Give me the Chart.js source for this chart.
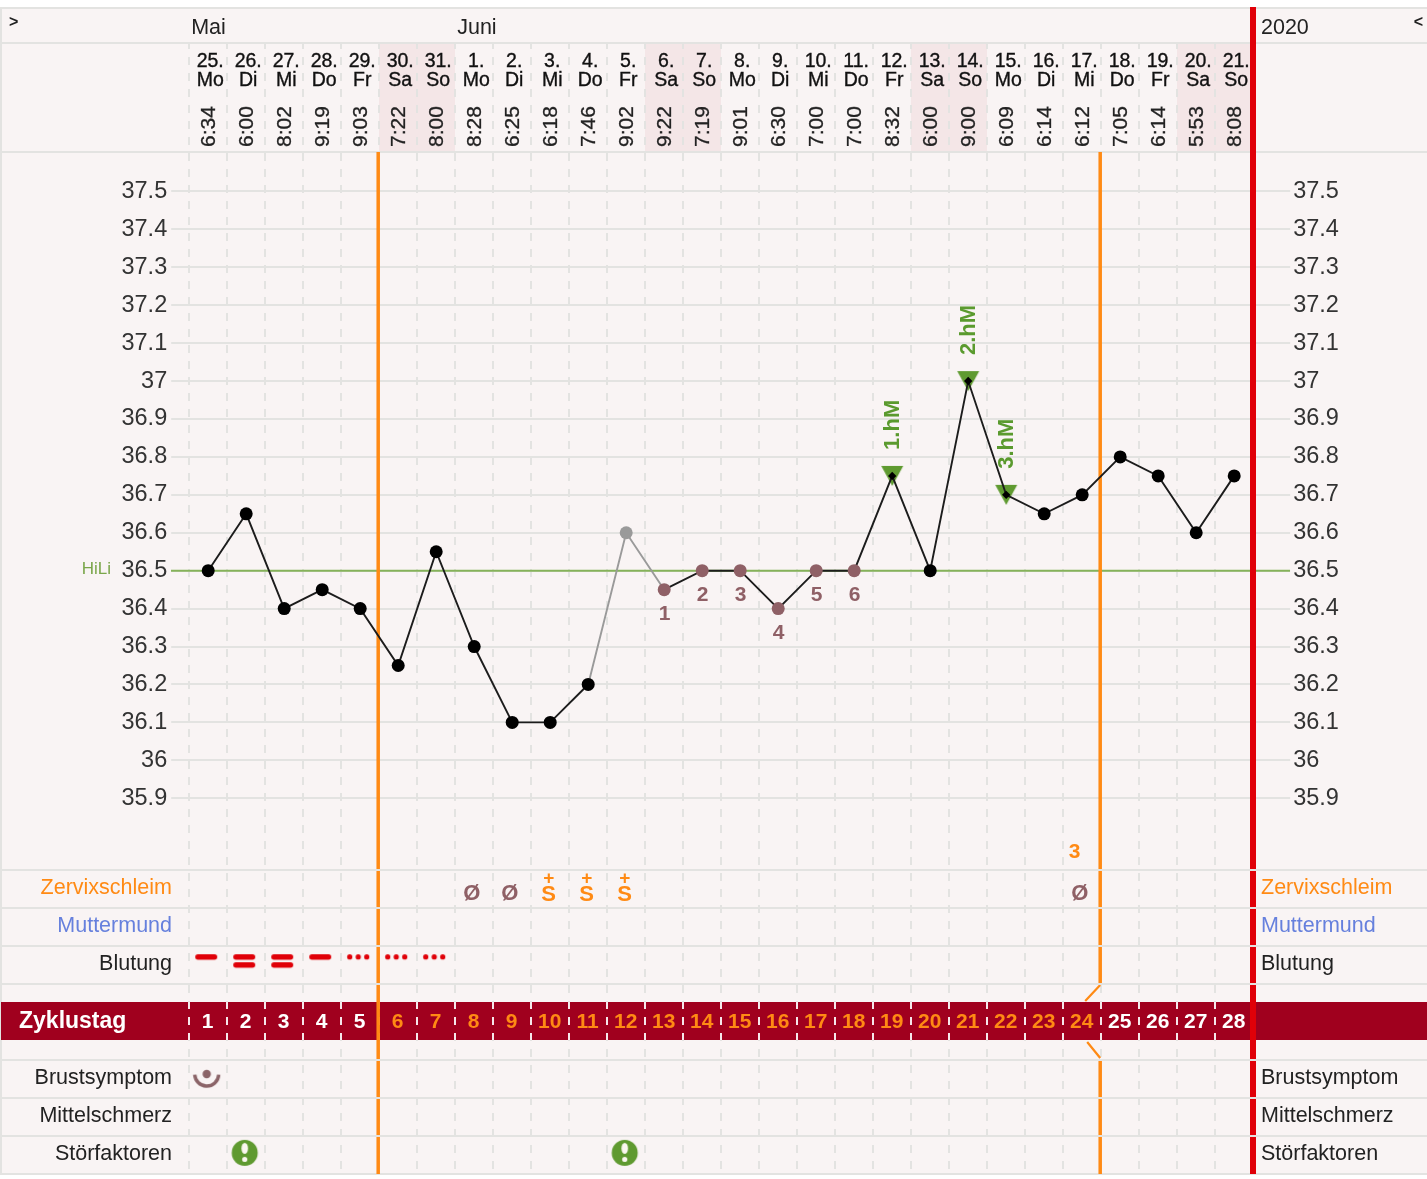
<!DOCTYPE html>
<html><head><meta charset="utf-8">
<script src="https://cdn.jsdelivr.net/npm/chart.js@4"></script>
<style>html,body{margin:0;padding:0;background:#fff}canvas{display:block;filter:blur(.45px)}</style>
</head><body><canvas id="c" width="1427" height="1179"></canvas>
<script>
const cycleDays=[1,2,3,4,5,6,7,8,9,10,11,12,13,14,15,16,17,18,19,20,21,22,23,24,25,26,27,28];
const dayNumbers=[25,26,27,28,29,30,31,1,2,3,4,5,6,7,8,9,10,11,12,13,14,15,16,17,18,19,20,21];
const weekdays=['Mo','Di','Mi','Do','Fr','Sa','So','Mo','Di','Mi','Do','Fr','Sa','So','Mo','Di','Mi','Do','Fr','Sa','So','Mo','Di','Mi','Do','Fr','Sa','So'];
const times=['6:34','6:00','8:02','9:19','9:03','7:22','8:00','8:28','6:25','6:18','7:46','9:02','9:22','7:19','9:01','6:30','7:00','7:00','8:32','6:00','9:00','6:09','6:14','6:12','7:05','6:14','5:53','8:08'];
const temperatures=[36.5,36.65,36.4,36.45,36.4,36.25,36.55,36.3,36.1,36.1,36.2,36.6,36.45,36.5,36.5,36.4,36.5,36.5,36.75,36.5,37,36.7,36.65,36.7,36.8,36.75,36.6,36.75];
const tempTicks=[37.5,37.4,37.3,37.2,37.1,37,36.9,36.8,36.7,36.6,36.5,36.4,36.3,36.2,36.1,36,35.9];
const hiLi=36.5;
const greyDays=[12];
const lowCountDays=[13,14,15,16,17,18];
const lowCountNumbers=[1,2,3,4,5,6];
const hmDays=[19,21,22];
const hmLabels=['1.hM','2.hM','3.hM'];
const months=[['Mai',1],['Juni',8]];
const phaseBoundaries=[5,24];
const mucusDays=[8,9,10,11,12,24];
const mucusMarks=['Ø','Ø','S+','S+','S+','Ø'];
const peakCountDay=24, peakCountLabel='3';
const bleedDays=[1,2,3,4,5,6,7];
const bleedKinds=['dash','double','double','dash','dots','dots','dots'];
const breastDays=[1];
const disturbDays=[2,12];
const rowLabels=['Zervixschleim','Muttermund','Blutung','Brustsymptom','Mittelschmerz','Störfaktoren'];

const FONT='"Liberation Sans"', BG='#f9f4f4', RULE='#e3e3e1', ORANGE='#ff8a14', BROWN='#8f6066', GREEN='#5f9a30';
const ROW={zervix:19.39,mutter:20.39,blut:21.39,brust:24.39,mittel:25.39,stoer:26.39};
const rowColors=[ORANGE,'#6680dd','#222','#222','#222','#222'];
const rowLabelY=[888,926,964,1078,1116,1154];
const rowRules=[870,908,946,984,1060,1098,1136];
const isWeekend=i=>weekdays[i]==='Sa'||weekdays[i]==='So';

function mark(w,h,draw){const c=document.createElement('canvas');c.width=w;c.height=h;draw(c.getContext('2d'));return c;}
function pill(g,x,y,w,h){g.beginPath();g.roundRect(x,y,w,h,h/2);g.fill();}
const bleedStyles={
 dash:mark(28,20,g=>{g.fillStyle='#e00008';pill(g,1,1,22,5.5);}),
 double:mark(28,20,g=>{g.fillStyle='#e00008';pill(g,1,1,22,5.5);pill(g,1,9,22,5.5);}),
 dots:mark(28,20,g=>{g.fillStyle='#e00008';[3.5,12,20.5].forEach(x=>{g.beginPath();g.arc(x,3.7,2.6,0,7);g.fill();});})
};
const breastStyle=mark(32,32,g=>{g.fillStyle=g.strokeStyle='#8b6468';g.lineWidth=3.4;g.beginPath();g.arc(14.5,13,12,.05,Math.PI-.05);g.stroke();g.beginPath();g.arc(14.5,13,4.2,0,7);g.fill();});
const bangStyle=mark(32,32,g=>{g.fillStyle=GREEN;g.beginPath();g.arc(14.5,16,13,0,7);g.fill();g.fillStyle='#fbf7f0';g.beginPath();g.ellipse(14.5,11.5,3.3,5.5,0,0,7);g.fill();g.beginPath();g.arc(14.5,22.5,2.6,0,7);g.fill();});
const triStyle=mark(24,22,g=>{g.fillStyle=GREEN;g.beginPath();g.moveTo(1,1);g.lineTo(23,1);g.lineTo(12,21);g.closePath();g.fill();});

const dataPoints=cycleDays.map((d,i)=>({x:d,y:temperatures[i]}));
const pointColor=cycleDays.map(d=>greyDays.includes(d)?'#9a9a9a':lowCountDays.includes(d)?BROWN:'#000');
const pointStyle=cycleDays.map(d=>hmDays.includes(d)?'rectRot':'circle');
const pointRadius=cycleDays.map(d=>hmDays.includes(d)?4.2:6.5);
const tempAt=d=>temperatures[cycleDays.indexOf(d)];
const dayPx=(x,d)=>x.getPixelForValue(cycleDays.indexOf(d));
const zeroPad=s=>{s.paddingLeft=s.paddingRight=s.paddingTop=s.paddingBottom=0;};

const dashRule={id:'chrome',
 beforeDraw(c){const g=c.ctx,x=c.scales.x;g.save();
  g.fillStyle='#fff';g.fillRect(0,0,1427,1179);
  g.fillStyle=BG;g.fillRect(1,8,1426,1166);
  g.fillStyle='#f4e6e7';
  cycleDays.forEach((d,i)=>{if(isWeekend(i))g.fillRect(Math.round(dayPx(x,d)-19),44,38,108);});
  g.fillStyle=RULE;
  [8,43,152,1174].forEach(y=>g.fillRect(0,y-1,1427,2));
  g.fillRect(0,8,2,1166);
  g.fillStyle='#a0001e';g.fillRect(1,1002,1426,38);
  g.restore();},
 beforeDatasetsDraw(c){const g=c.ctx,x=c.scales.x,y=c.scales.y;g.save();
  const leftEdge=d=>Math.round(dayPx(x,d)-19-1)+1;
  g.lineWidth=2;
  // header dashes
  g.strokeStyle=RULE;
  const headerDashes=[[44,49],[57,65],[73,81],[89,97],[105,113],[121,129],[137,145]];
  const bandDashes=[[1002,1009],[1017,1025],[1033,1040]];
  cycleDays.forEach(d=>{const px=leftEdge(d);g.beginPath();headerDashes.forEach(s=>{g.moveTo(px,s[0]);g.lineTo(px,s[1]);});g.stroke();});
  // dashes on the band
  g.fillStyle='#a0001e';g.fillRect(1,1002,1426,38);
  g.strokeStyle='#f6e6ea';
  cycleDays.forEach(d=>{const px=leftEdge(d);g.beginPath();bandDashes.forEach(s=>{g.moveTo(px,s[0]);g.lineTo(px,s[1]);});g.stroke();});
  // HiLi
  g.strokeStyle='#86b25a';g.lineWidth=2;g.beginPath();const hy=y.getPixelForValue(hiLi);g.moveTo(171,hy);g.lineTo(1290,hy);g.stroke();
  // phase lines
  const [a,b]=phaseBoundaries.map(d=>dayPx(x,d)+19-1);
  g.strokeStyle=ORANGE;g.lineWidth=3.5;
  g.beginPath();g.moveTo(a,152);g.lineTo(a,1174);
  g.moveTo(b,152);g.lineTo(b,983);g.moveTo(b,1059);g.lineTo(b,1174);g.stroke();
  g.lineWidth=2.2;g.beginPath();g.moveTo(b,985);g.lineTo(b-15,1001);g.moveTo(b-13,1042);g.lineTo(b,1058);g.stroke();
  // red line
  g.fillStyle='#e00008';g.fillRect(1250,7,6,1167);
  // row rules interrupt the vertical lines
  g.fillStyle=RULE;rowRules.forEach(v=>g.fillRect(0,v-1,1427,2));
  g.restore();},
 afterDatasetsDraw(c){const g=c.ctx,x=c.scales.x,y=c.scales.y,rowY=c.scales.rowY;g.save();
  const px=d=>dayPx(x,d);
  g.textBaseline='middle';
  // top row
  g.textAlign='left';g.fillStyle='#222';g.font='21.5px '+FONT;
  months.forEach(m=>g.fillText(m[0],px(m[1])-17,28));
  g.fillText('2020',1261,28);
  g.font='bold 16px '+FONT;g.fillText('>',9,23);
  g.textAlign='right';g.fillText('<',1423,23);
  // row labels
  rowLabels.forEach((t,i)=>{g.font='21.5px '+FONT;g.fillStyle=rowColors[i];g.textAlign='right';g.fillText(t,172,rowLabelY[i]);g.textAlign='left';g.fillText(t,1261,rowLabelY[i]);});
  // HiLi label
  g.textAlign='right';g.fillStyle='#7aa64a';g.font='17px '+FONT;g.fillText('HiLi',111,y.getPixelForValue(hiLi)-1);
  // band
  g.textAlign='left';g.fillStyle='#fff';g.font='bold 23px '+FONT;g.fillText('Zyklustag',19,1022);
  g.textAlign='center';g.font='bold 21px '+FONT;
  cycleDays.forEach(d=>{g.fillStyle=(d>phaseBoundaries[0]&&d<=phaseBoundaries[1])?ORANGE:'#fff';g.fillText(String(d),px(d)-.5,1022);});
  // low-count numbers
  g.font='bold 21px '+FONT;g.fillStyle=BROWN;
  lowCountDays.forEach((d,i)=>g.fillText(String(lowCountNumbers[i]),px(d)+.5,y.getPixelForValue(tempAt(d))+25));
  // hM labels
  g.fillStyle='#5a9a2e';g.font='bold 22px '+FONT;g.textAlign='left';
  hmDays.forEach((d,i)=>{g.save();g.translate(px(d)+.5,y.getPixelForValue(tempAt(d))-26);g.rotate(-Math.PI/2);g.fillText(hmLabels[i],0,0);g.restore();});
  // mucus row
  g.textAlign='center';
  const my=rowY.getPixelForValue(ROW.zervix);
  mucusDays.forEach((d,i)=>{
   if(mucusMarks[i]==='Ø'){g.fillStyle=BROWN;g.font='bold 22px '+FONT;g.fillText('Ø',px(d)-2.5,my+6.5);}
   else{g.fillStyle=ORANGE;g.font='bold 22px '+FONT;g.fillText('S',px(d)-1.5,my+7.5);g.font='bold 19px '+FONT;g.fillText('+',px(d)-1.5,my-9);}
  });
  g.fillStyle=ORANGE;g.font='bold 21px '+FONT;g.fillText(peakCountLabel,px(peakCountDay)-7.5,852);
  g.restore();}
};

new Chart(document.getElementById('c'),{
 type:'line',
 data:{labels:cycleDays,datasets:[
  {label:'Hochlagen',data:hmDays.map(d=>({x:d,y:tempAt(d)})),showLine:false,pointStyle:triStyle,order:3,xAxisID:'x',yAxisID:'y'},
  {label:'Temperatur',data:dataPoints,borderColor:'#1c1c1c',borderWidth:1.9,tension:0,fill:false,clip:false,
   pointStyle,pointRadius,pointBackgroundColor:pointColor,pointBorderColor:pointColor,pointBorderWidth:0,order:1,xAxisID:'x',yAxisID:'y',
   segment:{borderColor:s=>(greyDays.includes(cycleDays[s.p0DataIndex])||greyDays.includes(cycleDays[s.p1DataIndex]))?'#9a9a9a':undefined}},
  {label:'Blutung',data:bleedDays.map(d=>({x:d,y:ROW.blut})),showLine:false,clip:false,pointStyle:bleedKinds.map(k=>bleedStyles[k]),xAxisID:'x',yAxisID:'rowY'},
  {label:'Brustsymptom',data:breastDays.map(d=>({x:d,y:ROW.brust})),showLine:false,clip:false,pointStyle:breastStyle,xAxisID:'x',yAxisID:'rowY'},
  {label:'Störfaktoren',data:disturbDays.map(d=>({x:d,y:ROW.stoer})),showLine:false,clip:false,pointStyle:bangStyle,xAxisID:'x',yAxisID:'rowY'}
 ]},
 options:{responsive:false,animation:false,devicePixelRatio:1,
  layout:{padding:{left:0,right:0,top:0,bottom:5}},
  plugins:{legend:{display:false},title:{display:false},tooltip:{enabled:false}},
  elements:{point:{hoverRadius:6}},
  scales:{
   x:{type:'category',position:'top',offset:true,weight:1,
    grid:{offset:true,color:RULE,lineWidth:2,drawTicks:false,z:-1},
    border:{display:false,dash:[8,8],dashOffset:-1},
    ticks:{minRotation:90,maxRotation:90,autoSkip:false,padding:5,labelOffset:26.5,color:'#222',textStrokeColor:'#222',textStrokeWidth:.3,font:{family:FONT,size:21},callback:(v,i)=>times[i]},
    afterFit(s){s.height=47;zeroPad(s);}},
   xDates:{type:'category',labels:cycleDays,position:'top',offset:true,weight:2,
    grid:{display:false},border:{display:false},
    ticks:{maxRotation:0,minRotation:0,autoSkip:false,padding:7,labelOffset:2,color:'#111',textStrokeColor:'#111',textStrokeWidth:.35,font:{family:FONT,size:19.5,lineHeight:.97},callback:(v,i)=>[dayNumbers[i]+'.',weekdays[i]]},
    afterFit(s){s.height=105;zeroPad(s);}},
   y:{type:'linear',position:'left',min:34.9145,max:37.604,bounds:'data',
    grid:{color:RULE,lineWidth:2,tickLength:18,tickColor:RULE},border:{display:false},
    ticks:{autoSkip:false,padding:4,color:'#333',font:{family:FONT,size:23.5},callback:v=>String(v)},
    afterBuildTicks(s){s.ticks=tempTicks.map(v=>({value:v}));},
    afterFit(s){s.width=189.2;zeroPad(s);}},
   y2:{type:'linear',position:'right',min:34.9145,max:37.604,bounds:'data',
    grid:{color:RULE,lineWidth:2,drawOnChartArea:false,tickLength:37,tickColor:RULE},border:{display:false},
    ticks:{autoSkip:false,padding:3,color:'#333',font:{family:FONT,size:23.5},callback:v=>String(v)},
    afterBuildTicks(s){s.ticks=tempTicks.map(v=>({value:v}));},
    afterFit(s){s.width=173.8;zeroPad(s);}},
   rowY:{type:'linear',position:'left',weight:5,reverse:true,min:0,max:1022/38,bounds:'data',
    grid:{display:false},border:{display:false},ticks:{display:false},
    afterFit(s){s.width=0;zeroPad(s);}}
  }
 },
 plugins:[dashRule]
});
</script></body></html>
